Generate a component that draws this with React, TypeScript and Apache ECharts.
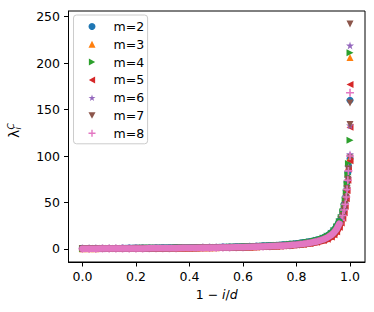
import React, { useEffect, useRef } from "react";
import * as echarts from "echarts";

const seriesNames = ["m=2", "m=3", "m=4", "m=5", "m=6", "m=7", "m=8"];
const colors = ["#1f77b4", "#ff7f0e", "#2ca02c", "#d62728", "#9467bd", "#8c564b", "#e377c2"];

const xs = [
  0, 0.025, 0.05, 0.075, 0.1, 0.125, 0.15, 0.175, 0.2, 0.225, 0.25, 0.275, 0.3, 0.325, 0.35, 0.375,
  0.4, 0.425, 0.45, 0.475, 0.5, 0.525, 0.55, 0.575, 0.6, 0.625, 0.65, 0.675, 0.7, 0.725, 0.75, 0.775,
  0.8, 0.825, 0.85, 0.875, 0.9, 0.915, 0.93, 0.94, 0.95, 0.96, 0.967, 0.973, 0.978, 0.982, 0.986,
  0.989, 0.992, 0.994,
];
const tailX = 1.0;
// dense part drawn as a continuous band up to this x
const bandEndX = 0.96;

const m2 = [0.7,0.73,0.76,0.8,0.83,0.87,0.91,0.95,1.0,1.05,1.1,1.16,1.22,1.29,1.36,1.44,1.52,1.61,1.71,1.82,1.94,2.07,2.22,2.39,2.58,2.8,3.05,3.35,3.7,4.1,4.6,5.2,5.95,6.9,8.1,9.7,12.1,14.3,17.5,20.5,24.5,30,35,41,48,55,63,72,82,90];
const m3 = [0.3,0.33,0.36,0.4,0.43,0.47,0.5,0.54,0.59,0.63,0.68,0.73,0.79,0.85,0.91,0.98,1.06,1.14,1.23,1.33,1.44,1.56,1.69,1.84,2.01,2.2,2.42,2.67,2.97,3.32,3.74,4.25,4.9,5.7,6.8,8.3,10.5,12.6,15.5,18.2,22,27.5,32,37,43,50,58,67,77,88];
const m4 = [0.6,0.63,0.66,0.7,0.73,0.77,0.81,0.85,0.9,0.95,1.0,1.06,1.12,1.19,1.26,1.33,1.41,1.5,1.6,1.71,1.83,1.96,2.1,2.26,2.45,2.66,2.9,3.19,3.52,3.92,4.4,4.99,5.73,6.65,7.85,9.45,11.8,14,17,20,24,29.5,34,40,46,53,61,70,80,92];
const m5 = [0.2,0.23,0.26,0.29,0.32,0.35,0.39,0.42,0.46,0.5,0.54,0.59,0.64,0.69,0.75,0.81,0.87,0.94,1.02,1.11,1.2,1.3,1.42,1.55,1.7,1.87,2.06,2.28,2.54,2.85,3.22,3.67,4.23,4.95,5.9,7.2,9.0,10.6,13,15.3,18.5,23.5,28,33,39,46,54,63,74,86];
const m6 = [0.55,0.58,0.61,0.64,0.68,0.71,0.75,0.79,0.83,0.87,0.92,0.97,1.03,1.09,1.15,1.22,1.29,1.37,1.46,1.56,1.66,1.78,1.91,2.06,2.22,2.41,2.62,2.87,3.16,3.5,3.91,4.41,5.03,5.83,6.88,8.35,10.6,12.5,15.3,18,21.8,27.3,32,37,43,49,57,66,76,88];
const m7 = [0.4,0.43,0.46,0.49,0.52,0.56,0.59,0.63,0.67,0.71,0.76,0.81,0.86,0.92,0.98,1.04,1.11,1.19,1.27,1.36,1.46,1.57,1.69,1.83,1.99,2.16,2.36,2.6,2.87,3.2,3.59,4.07,4.67,5.44,6.45,7.88,10.0,12,14.7,17.3,21,26.3,31,36,42,48,56,65,75,86];
const m8 = [0.3,0.33,0.36,0.39,0.42,0.46,0.49,0.53,0.58,0.62,0.67,0.72,0.77,0.83,0.89,0.96,1.03,1.11,1.2,1.3,1.4,1.52,1.64,1.79,1.95,2.13,2.34,2.58,2.87,3.2,3.6,4.09,4.7,5.49,6.53,8.0,10.2,12.2,15,17.6,21.3,27,31,36,42,48,56,64,74,84];

const tail2 = [97, 160];
const tail3 = [98, 206];
const tail4 = [117, 211];
const tail5 = [95, 131, 177];
const tail6 = [102, 133, 219];
const tail7 = [98, 134, 157, 242];
const tail8 = [100, 168];

const seriesValues = [m2, m3, m4, m5, m6, m7, m8];
const seriesTails = [tail2, tail3, tail4, tail5, tail6, tail7, tail8];

const xTicks = [0, 0.2, 0.4, 0.6, 0.8, 1.0];
const yTicks = [0, 50, 100, 150, 200, 250];

const FONT = "DejaVu Sans";
const FS = 12.5;

const symbols = [
  "circle",
  "triangle",
  "path://M0,0 L9,5 L0,10 Z",
  "path://M9,0 L0,5 L9,10 Z",
  "path://M50,0 L61,35 L98,35 L68,57 L79,91 L50,70 L21,91 L32,57 L2,35 L39,35 Z",
  "path://M0,0 L10,0 L5,9 Z",
  "path://M4,0 H6 V4 H10 V6 H6 V10 H4 V6 H0 V4 H4 Z",
];
const symbolSizes = [7, 7, 7, 7, 8, 7, 8];

export default function App() {
  const ref = useRef<HTMLDivElement>(null);
  useEffect(() => {
    const chart = echarts.init(ref.current!, null, { renderer: "svg" });
    const scatterSeries = seriesNames.map((name, k) => ({
      name,
      type: "scatter",
      symbol: symbols[k],
      symbolSize: symbolSizes[k],
      itemStyle: { color: colors[k], opacity: 1 },
      data: seriesValues[k]
        .map((y, i) => [xs[i], y])
        .concat(seriesTails[k].map((y) => [tailX, y])),
      z: 2 + k * 0.01,
    }));
    const bandSeries = seriesNames.map((name, k) => ({
      name,
      type: "line",
      showSymbol: false,
      symbol: "none",
      silent: true,
      lineStyle: { color: colors[k], width: 6.5, cap: "round", join: "round" },
      itemStyle: { color: colors[k] },
      data: seriesValues[k].map((y, i) => [xs[i], y]).filter((p) => p[0] <= bandEndX),
      z: 3 + k * 0.01,
    }));
    chart.setOption({
      animation: false,
      grid: {
        left: 68.5,
        right: 9,
        top: 11,
        bottom: 50,
        show: true,
        borderColor: "#000",
        borderWidth: 1,
        backgroundColor: "transparent",
      },
      legend: {
        orient: "vertical",
        left: 73.5,
        top: 15,
        itemWidth: 7,
        itemHeight: 7,
        itemGap: 4.8,
        padding: [5, 3.5, 4, 15],
        backgroundColor: "rgba(255,255,255,0.8)",
        borderColor: "#cccccc",
        borderWidth: 1,
        borderRadius: 3,
        formatter: (n: string) => "{p|}{t|" + n + "}",
        textStyle: {
          fontFamily: FONT,
          fontSize: FS,
          color: "#000",
          lineHeight: 13,
          rich: {
            p: { width: 13, height: 13 },
            t: { fontFamily: FONT, fontSize: FS, color: "#000", lineHeight: 13 },
          },
        },
        data: seriesNames.map((name, k) => ({ name, icon: symbols[k] })),
        z: 10,
      },
      xAxis: {
        type: "value",
        min: -0.052,
        max: 1.056,
        splitLine: { show: false },
        axisLine: { show: true, onZero: false, lineStyle: { color: "#000", width: 1 } },
        axisTick: { show: true, length: 4.5, customValues: xTicks, lineStyle: { color: "#000" } },
        axisLabel: {
          customValues: xTicks,
          margin: 8,
          fontFamily: FONT,
          fontSize: FS,
          color: "#000",
          formatter: (v: number) => v.toFixed(1),
        },
        name: "{a|1 − }{b|i}{a|/}{b|d}",
        nameLocation: "middle",
        nameGap: 20,
        nameTextStyle: {
          fontFamily: FONT,
          fontSize: FS,
          color: "#000",
          rich: {
            a: { fontFamily: FONT, fontSize: FS, color: "#000" },
            b: { fontFamily: FONT, fontSize: FS, color: "#000", fontStyle: "italic" },
          },
        },
      },
      yAxis: {
        type: "value",
        min: -14,
        max: 256,
        splitLine: { show: false },
        axisLine: { show: true, onZero: false, lineStyle: { color: "#000", width: 1 } },
        axisTick: { show: true, length: 4.5, customValues: yTicks, lineStyle: { color: "#000" } },
        axisLabel: {
          customValues: yTicks,
          margin: 8.5,
          fontFamily: FONT,
          fontSize: FS,
          color: "#000",
        },
      },
      graphic: [
        {
          type: "group",
          x: 14,
          y: 138,
          rotation: Math.PI / 2,
          children: [
            {
              type: "text",
              x: 0,
              y: 0,
              style: { text: "λ", fontFamily: FONT, fontSize: 14, fill: "#000", align: "left", verticalAlign: "middle" },
            },
            {
              type: "text",
              x: 8.5,
              y: -3,
              style: { text: "C", fontFamily: FONT, fontSize: 9, fill: "#000", align: "left", verticalAlign: "middle", fontStyle: "italic" },
            },
            {
              type: "text",
              x: 8.5,
              y: 3.5,
              style: { text: "i", fontFamily: FONT, fontSize: 9, fill: "#000", align: "left", verticalAlign: "middle", fontStyle: "italic" },
            },
          ],
        },
      ],
      series: [...scatterSeries, ...bandSeries],
    });
    return () => chart.dispose();
  }, []);
  return <div ref={ref} style={{ width: 374, height: 312, position: "absolute", left: 0, top: 0 }} />;
}
